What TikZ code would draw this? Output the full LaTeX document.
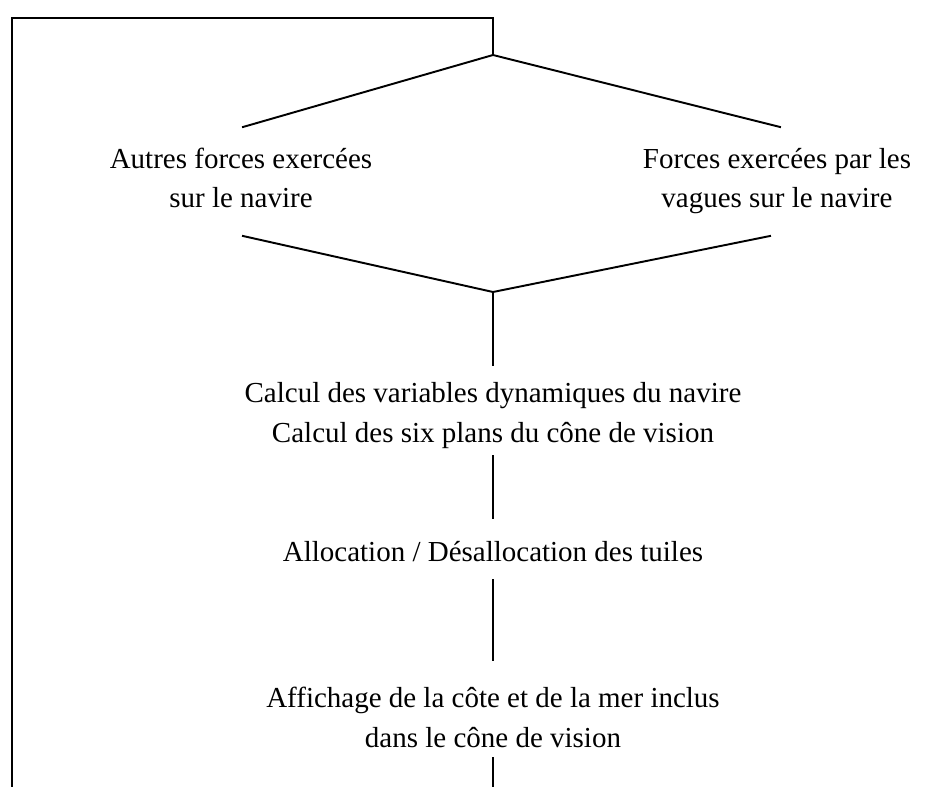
\documentclass[tikz,border=0pt]{standalone}
\usepackage{fontspec}
\setmainfont{Liberation Serif}
\tikzset{
  link/.style = {line width=1.1pt, line cap=rect, line join=miter},
  txt/.style = {align=center, inner sep=0pt, anchor=base,
                font=\fontsize{16.5}{22.2}\selectfont}
}

\begin{document}
\begin{tikzpicture}[x=0.02cm, y=-0.02cm]
		\useasboundingbox (0,0) rectangle (927,787);

		% Coordinates
		\coordinate (TL) at (12,18);
		\coordinate (BL) at (12,787);
		\coordinate (T) at (493,18);
		\coordinate (J1) at (493,55);
		\coordinate (A1) at (243,127);
		\coordinate (F1) at (780,127);
		\coordinate (A2) at (243,236);
		\coordinate (F2) at (770,236);
		\coordinate (J2) at (493,292);
		\coordinate (C1) at (493,365);
		\coordinate (C2) at (493,456);
		\coordinate (D1) at (493,518);
		\coordinate (D2) at (493,580);
		\coordinate (E1) at (493,660);
		\coordinate (E2) at (493,758);
		\coordinate (B) at (493,787);

		% Loop back
		\draw[link] (BL) -- (TL) -- (T) -- (J1);

		% Forces (base = last line)
		\draw[link] (A1) -- (J1) -- (F1);
		\node[txt] (autres) at (241,208) {Autres forces exercées\\sur le navire};
		\node[txt] (vagues) at (777,208) {Forces exercées par les\\vagues sur le navire};
		\draw[link] (A2) -- (J2) -- (F2);

		% Steps
		\draw[link] (J2) -- (C1);
		\node[txt] (calcul) at (493,442) {Calcul des variables dynamiques du navire\\Calcul des six plans du cône de vision};
		\draw[link] (C2) -- (D1);
		\node[txt] (alloc) at (493,561) {Allocation / Désallocation des tuiles};
		\draw[link] (D2) -- (E1);
		\node[txt] (affichage) at (493,747) {Affichage de la côte et de la mer inclus\\dans le cône de vision};
		\draw[link] (E2) -- (B);
	\end{tikzpicture}
\end{document}
